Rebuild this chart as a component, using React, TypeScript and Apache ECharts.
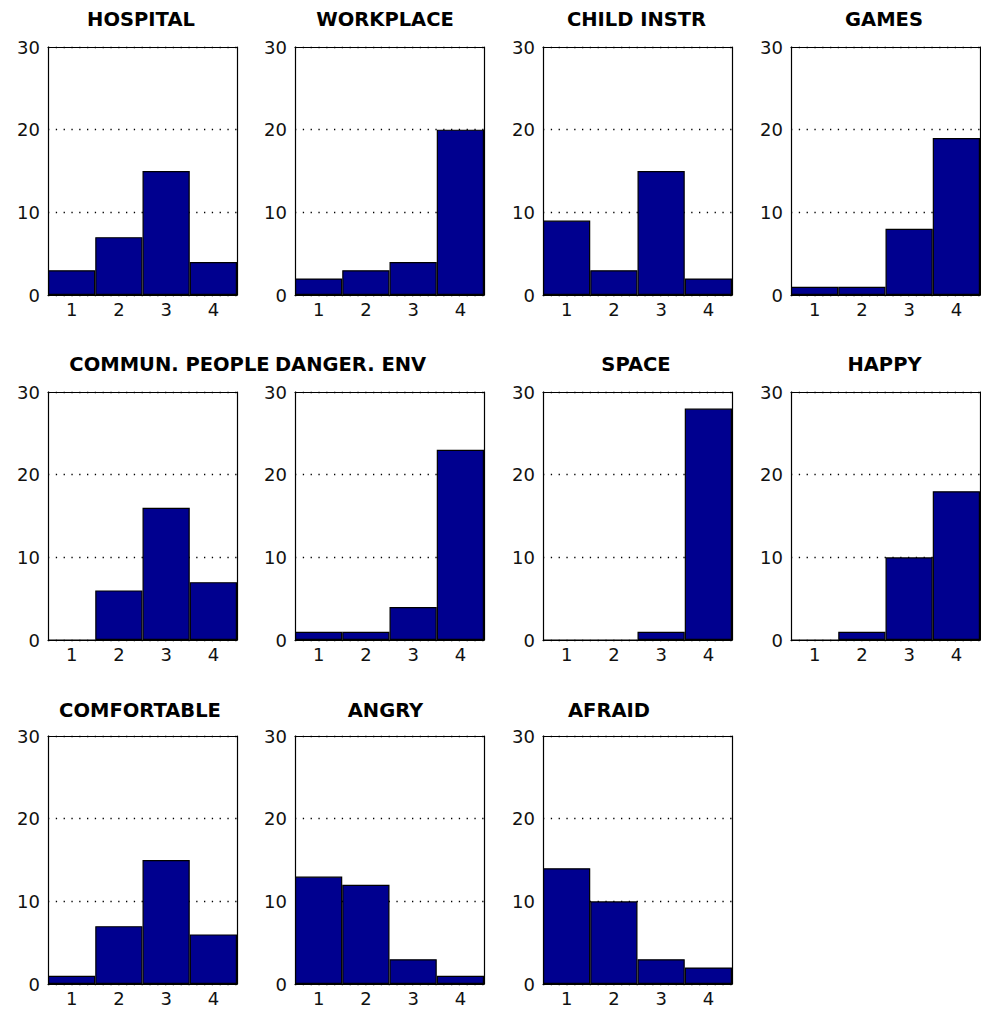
import React, { useEffect, useRef } from "react";
import * as echarts from "echarts";

const CATEGORIES = ["1", "2", "3", "4"];
const TITLES = [
  "HOSPITAL", "WORKPLACE", "CHILD INSTR", "GAMES",
  "COMMUN. PEOPLE", "DANGER. ENV", "SPACE", "HAPPY",
  "COMFORTABLE", "ANGRY", "AFRAID",
];
const HOSPITAL = [3, 7, 15, 4];
const WORKPLACE = [2, 3, 4, 20];
const CHILD_INSTR = [9, 3, 15, 2];
const GAMES = [1, 1, 8, 19];
const COMMUN_PEOPLE = [0, 6, 16, 7];
const DANGER_ENV = [1, 1, 4, 23];
const SPACE = [0, 0, 1, 28];
const HAPPY = [0, 1, 10, 18];
const COMFORTABLE = [1, 7, 15, 6];
const ANGRY = [13, 12, 3, 1];
const AFRAID = [14, 10, 3, 2];
const PANELS = [
  HOSPITAL, WORKPLACE, CHILD_INSTR, GAMES,
  COMMUN_PEOPLE, DANGER_ENV, SPACE, HAPPY,
  COMFORTABLE, ANGRY, AFRAID,
];
const Y_MIN = 0;
const Y_MAX = 30;
const Y_STEP = 10;

// layout
const COL_LEFT = [48, 295, 543, 791];
const ROW_TOP = [47, 392, 736];
const W = 189;
const H = 248;
const TITLE_CX = [141, 385, 636.5, 884, 169.5, 350.5, 636, 884.5, 140, 385.5, 609];
const TITLE_CY = [19.5, 364, 710];

const FONT = "'DejaVu Sans', 'Liberation Sans', sans-serif";

export default function App() {
  const ref = useRef<HTMLDivElement>(null);
  useEffect(() => {
    const chart = echarts.init(ref.current!, null, { renderer: "svg" });
    const grids: any[] = [];
    const xAxes: any[] = [];
    const yAxes: any[] = [];
    const series: any[] = [];
    const titles: any[] = [];
    const tick = { inside: true, length: 3, lineStyle: { color: "#000", width: 1 } };
    const line = { show: true, onZero: false, lineStyle: { color: "#000", width: 1.2 } };
    PANELS.forEach((vals, i) => {
      const r = Math.floor(i / 4);
      const c = i % 4;
      const left = COL_LEFT[c];
      const top = ROW_TOP[r];
      grids.push({ left, top, width: W, height: H, containLabel: false });
      titles.push({
        text: TITLES[i],
        left: TITLE_CX[i],
        top: TITLE_CY[r] - 10,
        textAlign: "center",
        padding: 0,
        textStyle: { fontFamily: FONT, fontSize: 19.5, fontWeight: "bold", color: "#000" },
      });
      xAxes.push({
        type: "category",
        gridIndex: i,
        data: CATEGORIES,
        position: "bottom",
        axisLine: line,
        axisTick: { ...tick, alignWithLabel: true },
        axisLabel: { margin: 5, fontFamily: FONT, fontSize: 18, color: "#111" },
        splitLine: { show: false },
      });
      xAxes.push({
        type: "category",
        gridIndex: i,
        data: CATEGORIES,
        position: "top",
        axisLine: line,
        axisTick: { ...tick, alignWithLabel: true },
        axisLabel: { show: false },
        splitLine: { show: false },
      });
      yAxes.push({
        type: "value",
        gridIndex: i,
        min: Y_MIN,
        max: Y_MAX,
        interval: Y_STEP,
        position: "left",
        axisLine: line,
        axisTick: tick,
        axisLabel: { margin: 8, fontFamily: FONT, fontSize: 18, color: "#111" },
        splitLine: { show: true, lineStyle: { color: "#000", width: 1.3, type: [1.3, 6.5] } },
      });
      yAxes.push({
        type: "value",
        gridIndex: i,
        min: Y_MIN,
        max: Y_MAX,
        interval: Y_STEP,
        position: "right",
        axisLine: line,
        axisTick: tick,
        axisLabel: { show: false },
        splitLine: { show: false },
      });
      series.push({
        type: "bar",
        xAxisIndex: 2 * i,
        yAxisIndex: 2 * i,
        data: vals,
        barWidth: "100%",
        barCategoryGap: "0%",
        itemStyle: { color: "#00008F", borderColor: "#000", borderWidth: 1.2 },
      });
    });
    chart.setOption({
      animation: false,
      backgroundColor: "#fff",
      title: titles,
      grid: grids,
      xAxis: xAxes,
      yAxis: yAxes,
      series,
    });
    return () => chart.dispose();
  }, []);
  return (
    <div
      ref={ref}
      style={{ position: "absolute", left: 0, top: 0, width: 981, height: 1011 }}
    />
  );
}
